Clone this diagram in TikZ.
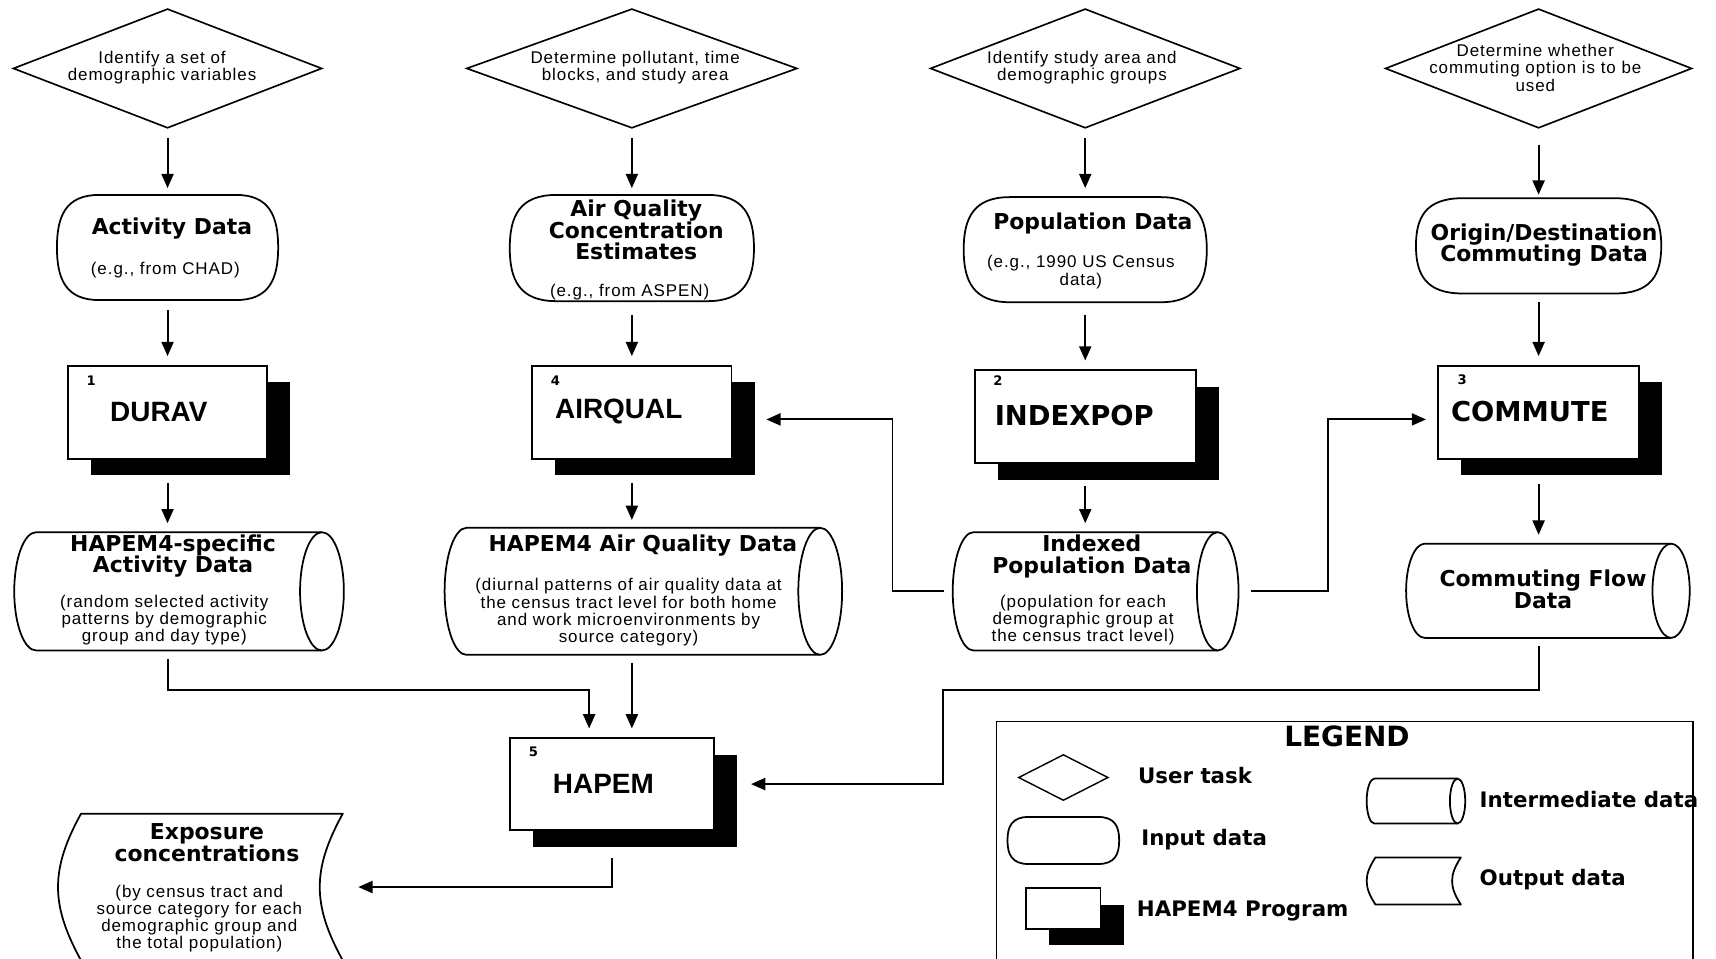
\documentclass[tikz,border=0pt]{standalone}
\usepackage{fontspec}
\setmainfont{Liberation Sans}
\newfontfamily\bodyf{Liberation Sans}[LetterSpace=5.5]
\newfontfamily\titlef{DejaVu Sans}
\newfontfamily\progf{Liberation Sans}
\usetikzlibrary{shapes.geometric,arrows.meta,shadows,calc}

\tikzset{
  sh/.style={draw, line width=1.6pt, fill=white, line join=round},
  bbox/.style={draw=none, inner sep=0pt, rectangle},
  task/.style={diamond, draw, line width=1.5pt, inner sep=0pt, fill=white},
  prog/.style={rectangle, draw, line width=1.6pt, fill=white, inner sep=0pt,
    drop shadow={shadow xshift=21pt, shadow yshift=-15pt, fill=black, opacity=1}},
  arr/.style={line width=1.8pt, -{Triangle[length=13pt,width=11pt]}},
  body/.style={font=\bodyf\fontsize{15.5}{15.6}\selectfont, align=center, inner sep=0pt},
  ttl/.style={font=\titlef\bfseries\fontsize{20}{19.6}\selectfont, align=center, inner sep=0pt},
  pname/.style={font=\progf\bfseries\fontsize{25.5}{25}\selectfont, inner sep=0pt},
  pnamew/.style={font=\titlef\bfseries\fontsize{25}{25}\selectfont, inner sep=0pt},
  num/.style={font=\titlef\bfseries\fontsize{12}{12}\selectfont, inner sep=0pt},
  leg/.style={font=\titlef\bfseries\fontsize{19.5}{19}\selectfont, inner sep=0pt, anchor=west},
}

% input data: rounded blob
\newcommand\inshape[5]{%
  \node[bbox, minimum width=#4pt, minimum height=#5pt] (#1) at (#2,#3) {};
  \draw[sh] ({#2-0.62*#4/2},{#3-#5/2}) -- ({#2+0.62*#4/2},{#3-#5/2})
    .. controls ({#2+0.92*#4/2},{#3-#5/2}) and ({#2+#4/2},{#3-0.6*#5/2}) .. ({#2+#4/2},{#3})
    .. controls ({#2+#4/2},{#3+0.6*#5/2}) and ({#2+0.92*#4/2},{#3+#5/2}) .. ({#2+0.62*#4/2},{#3+#5/2})
    -- ({#2-0.62*#4/2},{#3+#5/2})
    .. controls ({#2-0.92*#4/2},{#3+#5/2}) and ({#2-#4/2},{#3+0.6*#5/2}) .. ({#2-#4/2},{#3})
    .. controls ({#2-#4/2},{#3-0.6*#5/2}) and ({#2-0.92*#4/2},{#3-#5/2}) .. cycle;}

% intermediate data: horizontal cylinder
\newcommand\midshape[6]{%
  \node[bbox, minimum width=#4pt, minimum height=#5pt] (#1) at (#2,#3) {};
  \draw[sh] ({#2+#4/2-#6},{#3-#5/2}) -- ({#2-#4/2+#6},{#3-#5/2})
    arc[start angle=90, end angle=270, x radius=#6*1pt, y radius=#5/2*1pt]
    -- ({#2+#4/2-#6},{#3+#5/2});
  \draw[sh] ({#2+#4/2-#6},{#3}) ellipse[x radius=#6*1pt, y radius=#5/2*1pt];}

% output data: both sides bulging left
\newcommand\outshape[6]{%
  \node[bbox, minimum width=#4pt, minimum height=#5pt] (#1) at (#2,#3) {};
  \draw[sh] ({#2-#4/2+#6},{#3-#5/2}) -- ({#2+#4/2},{#3-#5/2})
    .. controls ({#2+#4/2-0.7*#6},{#3-0.3*#5}) and ({#2+#4/2-#6},{#3-0.15*#5}) .. ({#2+#4/2-#6},{#3})
    .. controls ({#2+#4/2-#6},{#3+0.15*#5}) and ({#2+#4/2-0.7*#6},{#3+0.3*#5}) .. ({#2+#4/2},{#3+#5/2})
    -- ({#2-#4/2+#6},{#3+#5/2})
    .. controls ({#2-#4/2+0.3*#6},{#3+0.3*#5}) and ({#2-#4/2},{#3+0.15*#5}) .. ({#2-#4/2},{#3})
    .. controls ({#2-#4/2},{#3-0.15*#5}) and ({#2-#4/2+0.3*#6},{#3-0.3*#5}) .. cycle;}

\begin{document}
\begin{tikzpicture}[x=1pt, y=-1pt]
\useasboundingbox (0,0) rectangle (1567,875);
\fill[white] (0,0) rectangle (1567,875);
\clip (0,0) rectangle (1567,875);

% ---------- user tasks
\node[task, minimum width=282pt, minimum height=109pt] (d1) at (153,62.5) {};
\node[task, minimum width=302pt, minimum height=109pt] (d2) at (577,62.5) {};
\node[task, minimum width=283pt, minimum height=109pt] (d3) at (991,62.5) {};
\node[task, minimum width=280pt, minimum height=109pt] (d4) at (1405,62.5) {};
\node[body] at (148,62) {Identify a set of\\demographic variables};
\node[body] at (580,62) {Determine pollutant, time\\blocks, and study area};
\node[body] at (988,62) {Identify study area and\\demographic groups};
\node[body] at (1402,62) {Determine whether\\commuting option is to be\\used};

% ---------- input data
\inshape{i1}{153}{226}{202}{96}
\inshape{i2}{577}{226.5}{223}{97}
\inshape{i3}{991}{228}{222}{96}
\inshape{i4}{1405}{224.5}{224}{87}
\node[ttl] at (157,209) {Activity Data};
\node[body] at (151,247) {(e.g., from CHAD)};
\node[ttl] at (581,210) {Air Quality\\Concentration\\Estimates};
\node[body] at (575,267) {(e.g., from ASPEN)};
\node[ttl] at (998,204) {Population Data};
\node[body] at (987,248.5) {(e.g., 1990 US Census\\data)};
\node[ttl] at (1410,224) {Origin/Destination\\Commuting Data};

% ---------- programs
\node[prog, minimum width=182pt, minimum height=85pt] (p1) at (153,376.5) {};
\node[prog, minimum width=182pt, minimum height=85pt] (p4) at (577,376.5) {};
\node[prog, minimum width=202pt, minimum height=85pt] (p2) at (991,380.5) {};
\node[prog, minimum width=184pt, minimum height=85pt] (p3) at (1405,376.5) {};
\node[prog, minimum width=186pt, minimum height=84pt] (p5) at (559,716) {};
\node[pname] at (145,376) {DURAV};
\node[pname] at (565,376) {AIRQUAL};
\node[pnamew] at (981,379) {INDEXPOP};
\node[pnamew] at (1397,376) {COMMUTE};
\node[pname] at (551,716) {HAPEM};
\node[num] at ($(p1.north west)+(22,14)$) {1};
\node[num] at ($(p4.north west)+(22,14)$) {4};
\node[num] at ($(p2.north west)+(22,10)$) {2};
\node[num] at ($(p3.north west)+(23,14)$) {3};
\node[num] at ($(p5.north west)+(22,13)$) {5};

% ---------- intermediate data
\midshape{m1}{163.5}{540}{301}{108}{20}
\midshape{m2}{587.5}{540}{363}{116}{20}
\midshape{m3}{1000.5}{540}{261}{108}{19}
\midshape{m4}{1413.5}{539.5}{259}{86}{17}
\node[ttl] at (158,508) {HAPEM4-specific\\Activity Data};
\node[body] at (150,566) {(random selected activity\\patterns by demographic\\group and day type)};
\node[ttl] at (587,498) {HAPEM4 Air Quality Data};
\node[body] at (574,559) {(diurnal patterns of air quality data at\\the census tract level for both home\\and work microenvironments by\\source category)};
\node[ttl] at (997,508) {Indexed\\Population Data};
\node[body] at (989,566) {(population for each\\demographic group at\\the census tract level)};
\node[ttl] at (1409,538) {Commuting Flow\\Data};

% ---------- output data
\outshape{out}{183}{810}{260}{134}{21}
\node[ttl] at (189,769.5) {Exposure\\concentrations};
\node[body] at (182,839) {(by census tract and\\source category for each\\demographic group and\\the total population)};

% ---------- connectors
\draw[arr] ($(d1.south)+(0,8)$) -- ($(i1.north)+(0,-6)$);
\draw[arr] ($(d2.south)+(0,8)$) -- ($(i2.north)+(0,-6)$);
\draw[arr] ($(d3.south)+(0,8)$) -- ($(i3.north)+(0,-8)$);
\draw[arr] ($(d4.south)+(0,15)$) -- ($(i4.north)+(0,-3)$);

\draw[arr] ($(i1.south)+(0,9)$) -- ($(p1.north)+(0,-8)$);
\draw[arr] ($(i2.south)+(0,12)$) -- ($(p4.north)+(0,-8)$);
\draw[arr] ($(i3.south)+(0,11)$) -- ($(p2.north)+(0,-8)$);
\draw[arr] ($(i4.south)+(0,8)$) -- ($(p3.north)+(0,-8)$);

\draw[arr] ($(p1.south)+(0,21)$) -- ($(p1.south |- m1.north)+(0,-8)$);
\draw[arr] ($(p4.south)+(0,21)$) -- ($(p4.south |- m2.north)+(0,-7)$);
\draw[arr] ($(p2.south)+(0,20)$) -- ($(p2.south |- m3.north)+(0,-8)$);
\draw[arr] ($(p3.south)+(0,22)$) -- ($(p3.south |- m4.north)+(0,-8)$);

\draw[arr] ($(m3.west)+(-8,0)$) -- (815,540) |- ($(p4.east)+(31,6.5)$);
\draw[arr] ($(m3.east)+(11,0)$) -- (1213,540) |- ($(p3.west)+(-10,6.5)$);
\draw[arr] ($(m1.south)+(-10.5,8)$) -- (153,630) -| ($(p5.north)+(-21,-8)$);
\draw[arr] ($(m2.south)+(-10.5,7)$) -- ($(p5.north)+(18,-8)$);
\draw[arr] ($(m4.south)+(-8.5,7)$) -- (1405,630) -| (861,716) -- ($(p5.east)+(33,0)$);
\draw[arr] ($(p5.south)+(0,25)$) |- ($(out.east)+(14,0)$);

% ---------- legend
\node[draw, line width=1.5pt, inner sep=0pt, minimum width=636pt, minimum height=241pt] (legend) at (1228,779.5) {};
\node[font=\titlef\bfseries\fontsize{25.5}{25}\selectfont, inner sep=0pt] at (1230,672) {LEGEND};
\node[task, line width=1.3pt, minimum width=82pt, minimum height=42pt] (ld) at (971,710) {};
\inshape{li}{971}{767.5}{102}{43}
\node[prog, minimum width=68pt, minimum height=37pt] (lp) at (971,829.5) {};
\midshape{lm}{1293}{731.5}{90}{41}{7}
\outshape{lo}{1291}{804.5}{86}{43}{8}
\node[leg] at (1039,708) {User task};
\node[leg] at (1042,767) {Input data};
\node[leg] at (1038,832) {HAPEM4 Program};
\node[leg] at (1351,730) {Intermediate data};
\node[leg] at (1351,803) {Output data};
\end{tikzpicture}
\end{document}
